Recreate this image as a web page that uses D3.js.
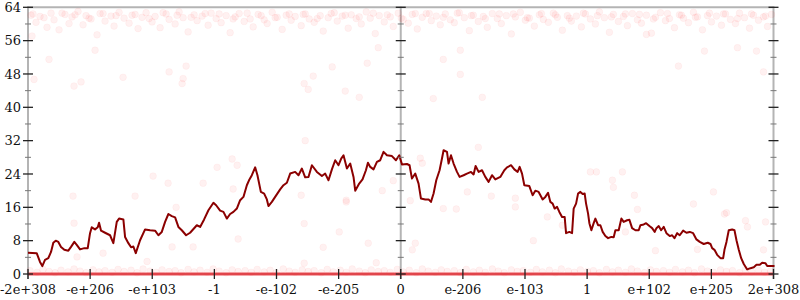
<html>
<head>
<script src="https://d3js.org/d3.v7.min.js"></script>
<style>
  body { margin: 0; background: #fff; }
  .lbl { font-family: "DejaVu Serif", serif; font-size: 13px; fill: #111; }
</style>
</head>
<body>
<svg id="chart" width="800" height="300"></svg>
<script>
// x position in sample units (0..745), value in bits
const xTickLabels = ["-2e+308", "-e+206", "-e+103", "-1", "-e-102", "-e-205", "0",
                     "e-206", "e-103", "1", "e+102", "e+205", "2e+308"];
const yMajor = [0, 8, 16, 24, 32, 40, 48, 56, 64];
const yMinor = [4, 12, 20, 28, 36, 44, 52, 60];

const trendPts = [[0,5.1],[8.7,5.0],[12,2.9],[14.3,1.9],[17,3.4],[20.3,3.8],[23,5.3],[25.3,7.5],[27.7,8.0],[30.3,7.7],
  [33,6.5],[36.3,5.8],[40.3,5.6],[43,6.5],[46.3,7.7],[48.7,7.0],[52,5.9],[56.3,6.2],[59.7,6.2],[62,9.8],
  [63.7,11.2],[67,10.7],[69.7,11.2],[71,12.3],[73,10.4],[77,9.9],[82,9.3],[85.3,7.4],[88.7,12.5],[91,13.3],
  [95.3,13.1],[97,8.9],[100.3,7.4],[103,6.4],[105.3,6.6],[107.7,5.0],[112,8.1],[117,10.7],[122,10.5],[127,10.4],
  [130.3,9.3],[133.7,10.1],[137,12.5],[140.3,14.4],[143.7,13.9],[147,13.6],[150.3,11.3],[153.7,10.5],[158,9.3],[162,9.9],
  [168.7,11.7],[172,11.3],[176,13.1],[180.3,15.3],[185.3,17.1],[188,16.5],[192,15.2],[195.3,14.9],[198.7,13.3],[202,14.4],
  [205.3,14.9],[208.7,15.7],[212,17.7],[215.3,18.5],[218.7,21.3],[221.3,22.7],[223.7,23.7],[227,25.6],[229.3,23.7],[232.7,19.7],
  [236,19.3],[238.7,17.9],[240.3,16.3],[243.7,17.3],[247,18.5],[252,20.3],[255.3,21.3],[258.7,21.9],[262,24.1],[267,24.5],
  [270.3,23.7],[273.7,25.3],[277,23.2],[280.3,23.3],[283.7,26.1],[288.7,24.5],[293.7,23.5],[297,24.1],[300.3,22.5],[303.7,25.1],
  [307,27.3],[310.3,26.1],[313,27.7],[315.3,28.5],[318.7,25.3],[322,26.5],[325.3,23.3],[327,20.0],[331,21.7],[334.3,22.7],
  [337.7,24.9],[339.7,26.7],[342,25.7],[345.3,25.1],[348.7,26.9],[352,27.3],[355.3,29.3],[358.7,28.5],[363.7,28.3],[367.7,27.3],
  [371,28.5],[373.7,26.3],[378.7,26.4],[381.3,26.1],[383.7,22.9],[387,24.1],[390.3,21.7],[392.7,18.1],[397,17.9],[400.3,17.9],
  [402.7,17.3],[405.3,19.3],[408,22.5],[411.3,24.9],[413.7,27.7],[415.3,29.7],[418.7,29.3],[420.3,26.5],[422.7,28.5],[425.3,26.5],
  [428.7,24.5],[431.3,23.3],[435.3,23.7],[438.7,24.1],[442.7,24.5],[445.3,23.9],[447.3,25.9],[450.3,24.5],[453.7,24.9],[457,23.3],
  [460.3,22.1],[463.7,23.7],[467,22.7],[472,23.3],[476,24.9],[478.7,25.6],[482.7,26.1],[486,25.1],[489.3,24.5],[491.3,25.7],
  [493.7,24.1],[496,21.3],[501,21.1],[504.3,18.9],[507,20.0],[510.3,19.7],[514.3,17.9],[517,18.5],[519.7,19.5],[522,17.3],
  [524.3,16.9],[526.3,15.7],[528.7,16.1],[531,14.9],[533.7,13.7],[536.3,13.7],[537.7,9.8],[541,10.1],[543.7,9.8],[545.3,15.7],
  [547.7,16.9],[549.7,19.3],[552,19.7],[554.3,19.2],[556.3,19.3],[557.7,16.9],[559.7,14.5],[561,12.2],[563,10.5],[565.3,12.2],
  [567,13.3],[569.7,11.7],[572,11.7],[574.3,10.1],[577,9.1],[579.7,8.6],[583,8.9],[585.3,8.8],[587,10.5],[590.3,10.5],
  [593,13.3],[595.3,12.5],[598.7,12.9],[601,13.0],[603.7,11.0],[607,10.5],[610.3,10.5],[612,11.7],[615.3,11.9],[617.7,12.2],
  [621,11.5],[623.7,11.0],[626.3,10.1],[628,11.0],[630.3,11.5],[632.7,10.5],[635.3,11.3],[638,9.8],[641.3,9.1],[643.7,9.3],
  [646,8.6],[648.7,9.8],[651.3,9.3],[654.7,10.4],[658,9.9],[661.3,10.1],[664.7,9.8],[668,8.3],[671.3,7.7],[675.3,7.2],
  [679.3,7.5],[682,7.2],[683.7,6.2],[686,5.8],[688.7,4.6],[692,3.8],[694.7,3.8],[696,5.8],[698,7.7],[700.3,10.5],
  [703.7,10.7],[706,10.5],[708,8.1],[710.3,5.8],[712.7,3.8],[715.3,2.4],[718.7,1.1],[722,1.4],[725.3,1.6],[728,2.2],
  [731.3,2.2],[733.7,2.7],[737,2.6],[738.7,1.9],[742.7,1.9],[746,1.9]];

const topPts = [[3,62.1],[8,60.4],[12,61.8],[19,59.2],[23,62.6],[26,61.0],[31,58.6],[37,62.3],[41,60.1],[44,61.7],
  [50,63.0],[55,59.8],[58,62.0],[63,61.2],[69,57.4],[72,62.5],[77,60.7],[83,61.9],[86,59.5],[91,62.8],
  [96,61.4],[101,60.2],[104,62.1],[110,58.9],[114,61.6],[118,62.7],[124,60.5],[127,61.8],[132,59.1],[138,62.4],
  [141,61.1],[147,60.0],[151,62.9],[155,61.5],[160,58.1],[166,62.2],[169,60.8],[174,61.9],[180,59.7],[183,62.6],
  [188,61.3],[193,60.3],[198,62.0],[202,57.9],[207,61.7],[211,62.5],[216,60.6],[222,61.2],[225,59.3],[230,62.3],
  [236,61.0],[239,60.1],[244,62.8],[249,61.6],[254,58.7],[258,62.1],[263,60.9],[267,61.8],[273,59.6],[277,62.4],
  [281,61.2],[286,60.4],[292,62.0],[295,58.3],[300,61.5],[306,62.7],[309,60.7],[314,61.9],[320,59.0],[323,62.2],
  [328,61.3],[333,60.0],[338,62.9],[342,61.4],[347,57.7],[351,62.0],[356,60.5],[362,61.7],[365,59.4],[370,62.6],
  [375,61.1],[380,60.2],[384,62.3],[389,58.8],[394,61.6],[398,62.5],[403,60.8],[408,61.9],[412,59.8],[417,62.4],
  [422,61.0],[426,60.3],[431,62.7],[436,61.5],[441,58.4],[445,62.1],[450,60.6],[455,61.8],[459,59.2],[464,62.5],
  [469,61.3],[473,60.1],[478,62.0],[483,57.6],[487,61.7],[492,62.8],[497,60.9],[501,61.4],[506,59.5],[511,62.2],
  [515,61.1],[520,60.4],[525,62.6],[529,61.6],[534,58.5],[539,62.0],[543,60.7],[548,61.9],[553,59.3],[557,62.4],
  [562,61.2],[567,60.0],[571,62.9],[576,61.5],[581,58.0],[585,62.3],[590,60.6],[595,61.8],[599,59.6],[604,62.5],
  [609,61.0],[613,60.2],[618,62.1],[623,57.8],[627,61.6],[632,62.7],[637,60.8],[641,61.3],[646,59.1],[651,62.2],
  [655,61.4],[660,60.3],[665,62.8],[669,61.7],[674,58.6],[679,62.0],[683,60.5],[688,61.9],[693,59.7],[697,62.4],
  [702,61.1],[707,60.1],[711,62.6],[716,61.5],[721,59.0],[725,62.1],[730,60.9],[735,61.7],[739,59.4],[743,62.3],
  [5,62.4],[16,61.5],[34,62.6],[47,62.2],[61,61.4],[75,62.5],[88,62.0],[107,62.3],[121,61.3],[135,62.7],
  [149,62.1],[163,61.6],[177,62.5],[191,62.4],[205,61.2],[219,62.6],[233,62.0],[247,61.5],[261,62.4],[275,62.3],
  [289,61.3],[303,62.5],[317,62.1],[331,61.7],[345,62.6],[359,62.2],[373,61.4],[387,62.5],[401,62.5],[415,61.6],
  [429,62.6],[443,62.0],[457,61.3],[471,62.4],[485,62.4],[499,61.5],[513,62.5],[527,62.2],[541,61.4],[555,62.6],
  [569,62.0],[583,61.7],[597,62.4],[611,62.3],[625,61.2],[639,62.5],[653,62.1],[667,61.6],[681,62.6],[695,62.4],
  [709,61.3],[723,62.4],[737,61.9]];

const midPts = [[67,53.7],[21,51.5],[6,46.7],[53,46.1],[46,45.1],[95,47.2],[141,48.5],[158,49.9],[155,46.9],[154,45.7],
  [4,57.1],[339,50.6],[350,54.3],[304,49.7],[285,47.5],[276,45.7],[280,44.3],[317,43.9],[415,51.5],[432,53.7],
  [432,47.9],[331,42.4],[405,42.1],[454,42.4],[676,53.5],[728,53.5],[650,49.9],[735,48.5],[618,57.5],[709,54.3],
  [46,12.2],[45,18.7],[107,18.7],[75,5.0],[49,4.1],[119,3.0],[125,23.5],[140,21.8],[175,21.8],[189,25.6],
  [204,27.6],[209,26.1],[205,20.4],[148,16.0],[210,8.4],[144,6.5],[165,6.5],[277,32.0],[273,18.9],[318,17.7],
  [354,20.0],[365,22.4],[392,27.8],[394,26.6],[382,17.6],[439,19.7],[450,30.4],[463,18.7],[415,15.7],[428,15.6],
  [487,18.2],[487,16.1],[562,24.5],[568,24.5],[584,22.5],[585,20.8],[606,18.9],[609,15.5],[519,13.7],[534,11.7],
  [505,8.0],[594,24.5],[685,19.7],[665,16.8],[696,14.4],[717,12.8],[719,11.3],[737,12.5],[627,5.6],[669,5.9],
  [276,12.1],[311,10.1],[340,7.4],[295,6.4],[276,2.6],[348,2.7],[387,7.4],[384,5.8],[318,17.3],[698,14.7],
  [597,10.1],[735,5.8]];

const bottomPts = [[2,0.8],[9,0.4],[15,1.1],[21,0.6],[27,0.3],[33,0.9],[40,0.5],[46,1.2],[52,0.7],[58,0.3],
  [65,1.0],[71,0.5],[77,0.8],[84,0.4],[90,1.1],[96,0.6],[103,0.9],[109,0.3],[115,1.2],[122,0.7],
  [128,0.4],[134,1.0],[141,0.6],[147,0.8],[153,0.3],[160,1.1],[166,0.5],[172,0.9],[179,0.4],[185,1.2],
  [191,0.7],[198,0.3],[204,1.0],[210,0.6],[217,0.8],[223,0.4],[229,1.1],[236,0.5],[242,0.9],[248,0.3],
  [255,1.2],[261,0.7],[267,0.4],[274,1.0],[280,0.6],[286,0.8],[293,0.3],[299,1.1],[305,0.5],[312,0.9],
  [318,0.4],[324,1.2],[331,0.7],[337,0.3],[343,1.0],[350,0.6],[356,0.8],[362,0.4],[369,1.1],[375,0.5],
  [381,0.9],[388,0.3],[394,1.2],[400,0.7],[407,0.4],[413,1.0],[419,0.6],[426,0.8],[432,0.3],[438,1.1],
  [445,0.5],[451,0.9],[457,0.4],[464,1.2],[470,0.7],[476,0.3],[483,1.0],[489,0.6],[495,0.8],[502,0.4],
  [508,1.1],[514,0.5],[521,0.9],[527,0.3],[533,1.2],[540,0.7],[546,0.4],[552,1.0],[559,0.6],[565,0.8],
  [571,0.3],[578,1.1],[584,0.5],[590,0.9],[597,0.4],[603,1.2],[609,0.7],[616,0.3],[622,1.0],[628,0.6],
  [635,0.8],[641,0.4],[647,1.1],[654,0.5],[660,0.9],[666,0.3],[673,1.2],[679,0.7],[685,0.4],[692,1.0],
  [698,0.6],[704,0.8],[711,0.3],[717,1.1],[723,0.5],[730,0.9],[736,0.4],[742,0.7]];

const svg = d3.select("#chart");
const xMax = 745;
const xScale = d3.scaleLinear().domain([0, xMax]).range([28, 773.5]);
const yScale = d3.scaleLinear().domain([0, 64]).range([274, 7.3]);
const xTickPos = xTickLabels.map((d, i) => i * xMax / (xTickLabels.length - 1));

// frame lines
const frame = svg.append("g").attr("stroke", "#b4b4b4").attr("stroke-width", 2);
frame.append("line")
  .attr("x1", xScale(0)).attr("x2", xScale(xMax))
  .attr("y1", yScale(64)).attr("y2", yScale(64));
[0, xMax / 2, xMax].forEach(v => {
  frame.append("line")
    .attr("x1", xScale(v)).attr("x2", xScale(v))
    .attr("y1", yScale(64) - 1).attr("y2", yScale(0) + 5);
});
frame.append("line")
  .attr("x1", xScale(0)).attr("x2", xScale(xMax))
  .attr("y1", yScale(0)).attr("y2", yScale(0));

// faint scatter
const dots = svg.append("g")
  .attr("fill", "#ff0000").attr("fill-opacity", 0.055)
  .attr("stroke", "#ff0000").attr("stroke-opacity", 0.035);
dots.selectAll("circle")
  .data(topPts.concat(midPts, bottomPts))
  .enter().append("circle")
  .attr("cx", d => xScale(d[0]))
  .attr("cy", d => yScale(d[1]))
  .attr("r", 3.4);

// dense zero values
svg.append("line")
  .attr("x1", xScale(0)).attr("x2", xScale(xMax))
  .attr("y1", yScale(0)).attr("y2", yScale(0))
  .attr("stroke", "#e8333a").attr("stroke-opacity", 0.85)
  .attr("stroke-width", 3);

// trend line
const line = d3.line().x(d => xScale(d[0])).y(d => yScale(d[1]));
svg.append("path")
  .attr("d", line(trendPts))
  .attr("fill", "none")
  .attr("stroke", "#8b0000")
  .attr("stroke-width", 2)
  .attr("stroke-linejoin", "round");

// vertical axes ticks (left, center, right)
const axG = svg.append("g");
[0, xMax / 2, xMax].forEach(v => {
  const cx = xScale(v);
  axG.selectAll(null).data(yMinor).enter().append("line")
    .attr("x1", cx - 3).attr("x2", cx + 3)
    .attr("y1", d => yScale(d)).attr("y2", d => yScale(d))
    .attr("stroke", "#777").attr("stroke-width", 1);
  axG.selectAll(null).data(yMajor).enter().append("line")
    .attr("x1", cx - 5).attr("x2", cx + 5)
    .attr("y1", d => yScale(d)).attr("y2", d => yScale(d))
    .attr("stroke", "#222").attr("stroke-width", 1.3);
});

// y labels
svg.append("g").selectAll("text")
  .data(yMajor).enter().append("text")
  .attr("class", "lbl")
  .attr("x", 21)
  .attr("y", d => yScale(d))
  .attr("dy", "0.36em")
  .attr("text-anchor", "end")
  .text(d => d);

// x ticks and labels
svg.append("g").selectAll("line")
  .data(xTickPos).enter().append("line")
  .attr("x1", d => xScale(d)).attr("x2", d => xScale(d))
  .attr("y1", yScale(0) - 5).attr("y2", yScale(0) + 5)
  .attr("stroke", "#222").attr("stroke-width", 1.3);

svg.append("g").selectAll("text")
  .data(xTickLabels).enter().append("text")
  .attr("class", "lbl")
  .attr("x", (d, i) => xScale(xTickPos[i]))
  .attr("y", 294)
  .attr("text-anchor", "middle")
  .text(d => d);
</script>
</body>
</html>
